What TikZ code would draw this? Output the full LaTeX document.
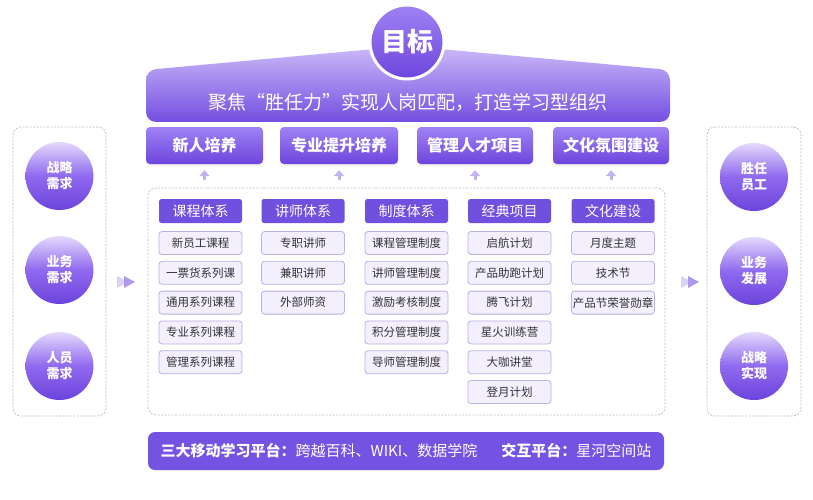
\documentclass[tikz,border=0pt]{standalone}
\usepackage{fontspec}
\setmainfont{Noto Sans CJK SC}
\usetikzlibrary{arrows.meta,shadows}
\definecolor{pdeep}{HTML}{6D45DD}
\definecolor{plight}{HTML}{9F82F4}
\definecolor{barc}{HTML}{7452E2}
\definecolor{colc}{HTML}{7050DF}
\definecolor{itemfill}{HTML}{F3EFFD}
\definecolor{itemdraw}{HTML}{BCAFE5}
\definecolor{dashc}{HTML}{BBBBBB}
\definecolor{txt}{HTML}{333333}
\definecolor{circtop}{HTML}{E4D9FC}
\definecolor{circmid}{HTML}{8F69EF}
\definecolor{circbot}{HTML}{6C44DC}
\definecolor{arrc}{HTML}{C2B0F3}
\definecolor{arrd}{HTML}{9C7FEE}
\tikzset{
  hdr/.style={rectangle, rounded corners=4pt, minimum height=37, inner sep=0,
    top color=plight, bottom color=pdeep, text=white,
    font=\fontsize{16}{18}\selectfont\bfseries,
    drop shadow={opacity=0.12, shadow xshift=0pt, shadow yshift=-2pt}},
  colh/.style={rectangle, rounded corners=2.5pt, minimum width=83, minimum height=24,
    inner sep=0, fill=colc, text=white, font=\fontsize{14}{16}\selectfont},
  item/.style={rectangle, rounded corners=3pt, minimum width=83, minimum height=23,
    inner sep=0, fill=itemfill, draw=itemdraw, line width=0.8pt, text=txt,
    font=\fontsize{11.5}{13}\selectfont},
  circ/.style={circle, minimum size=68, inner sep=0, top color=circtop,
    bottom color=circbot, middle color=circmid, text=white, align=center,
    font=\fontsize{13}{16}\selectfont\bfseries},
  dbox/.style={rectangle, rounded corners=8pt, draw=dashc, line width=0.7pt,
    dash pattern=on 2pt off 1.5pt, inner sep=0},
  uparr/.style={-{Triangle[width=10pt,length=6pt]}, line width=3pt, draw=arrc},
}
\begin{document}
\begin{tikzpicture}[x=1pt,y=-1pt]
\useasboundingbox (0,0) rectangle (813,500);
\fill[white] (0,0) rectangle (813,500);

% top banner
\shade[top color=circtop!65!plight, bottom color=pdeep!85!plight, rounded corners=10pt]
  (146,122) -- (146,70) -- (407,46) -- (670,70) -- (670,122) -- cycle;
\node[text=white, font=\fontsize{19}{22}\selectfont] (goaltxt) at (408,102)
  {聚焦“胜任力”实现人岗匹配，打造学习型组织};
\node[circle, minimum size=74, inner sep=0, draw=white, line width=3pt,
  top color=plight, bottom color=pdeep, text=white,
  font=\fontsize{26}{28}\selectfont\bfseries,
  drop shadow={opacity=0.15, shadow xshift=0pt, shadow yshift=-2pt}] (goal) at (407,42) {目标};

% header boxes
\node[hdr, minimum width=117] (h1) at (204.5,145.5) {新人培养};
\node[hdr, minimum width=118] (h2) at (339,145.5) {专业提升培养};
\node[hdr, minimum width=116] (h3) at (475,145.5) {管理人才项目};
\node[hdr, minimum width=116] (h4) at (611,145.5) {文化氛围建设};

% container
\node[dbox, minimum width=517, minimum height=227] (cont) at (406.5,301.5) {};

% up arrows
\foreach \h in {h1,h2,h3,h4}{
  \coordinate (\h-a) at ([yshift=-16pt]\h.south);
  \coordinate (\h-b) at ([yshift=-6pt]\h.south);
  \draw[uparr] (\h-a) -- (\h-b);
}

% column headers
\node[colh] (k1) at (200.5,211) {课程体系};
\node[colh] (k2) at (303,211) {讲师体系};
\node[colh] (k3) at (406.5,211) {制度体系};
\node[colh] (k4) at (509.5,211) {经典项目};
\node[colh] (k5) at (613,211) {文化建设};

% items
\foreach \t [count=\i from 0] in {新员工课程,一票货系列课,通用系列课程,专业系列课程,管理系列课程}
  \node[item] (a\i) at (200.5,243+29.8*\i) {\t};
\foreach \t [count=\i from 0] in {专职讲师,兼职讲师,外部师资}
  \node[item] (b\i) at (303,243+29.8*\i) {\t};
\foreach \t [count=\i from 0] in {课程管理制度,讲师管理制度,激励考核制度,积分管理制度,导师管理制度}
  \node[item] (c\i) at (406.5,243+29.8*\i) {\t};
\foreach \t [count=\i from 0] in {启航计划,产品助跑计划,腾飞计划,星火训练营,大咖讲堂,登月计划}
  \node[item] (d\i) at (509.5,243+29.8*\i) {\t};
\foreach \t [count=\i from 0] in {月度主题,技术节,产品节荣誉勋章}
  \node[item] (e\i) at (613,243+29.8*\i) {\t};

% left box
\node[dbox, minimum width=93, minimum height=289] (lbox) at (59.5,271.5) {};
\node[circ] (l1) at (59.5,176) {战略\\需求};
\node[circ] (l2) at (59.5,270) {业务\\需求};
\node[circ] (l3) at (59.5,366) {人员\\需求};

% right box
\node[dbox, minimum width=94, minimum height=289] (rbox) at (754,271.5) {};
\node[circ] (r1) at (754,177) {胜任\\员工};
\node[circ] (r2) at (754,271) {业务\\发展};
\node[circ] (r3) at (754,366) {战略\\实现};

% double chevrons
\coordinate (lc) at (126,282);
\fill[arrc!60] ([xshift=-9pt,yshift=-6pt]lc) -- ([xshift=2pt]lc) -- ([xshift=-9pt,yshift=6pt]lc) -- cycle;
\fill[arrd!80] ([xshift=-2pt,yshift=-6pt]lc) -- ([xshift=9pt]lc) -- ([xshift=-2pt,yshift=6pt]lc) -- cycle;
\coordinate (rc) at (690,282);
\fill[arrc!60] ([xshift=-9pt,yshift=-6pt]rc) -- ([xshift=2pt]rc) -- ([xshift=-9pt,yshift=6pt]rc) -- cycle;
\fill[arrd!80] ([xshift=-2pt,yshift=-6pt]rc) -- ([xshift=9pt]rc) -- ([xshift=-2pt,yshift=6pt]rc) -- cycle;

% bottom bar
\node[rectangle, rounded corners=7pt, fill=barc, minimum width=516, minimum height=38,
  inner sep=0, text=white, font=\fontsize{15}{17}\selectfont] (bar) at (406,451)
  {{\bfseries 三大移动学习平台：}跨越百科、WIKI、数据学院\hspace{24pt}{\bfseries 交互平台：}星河空间站};
\end{tikzpicture}
\end{document}
